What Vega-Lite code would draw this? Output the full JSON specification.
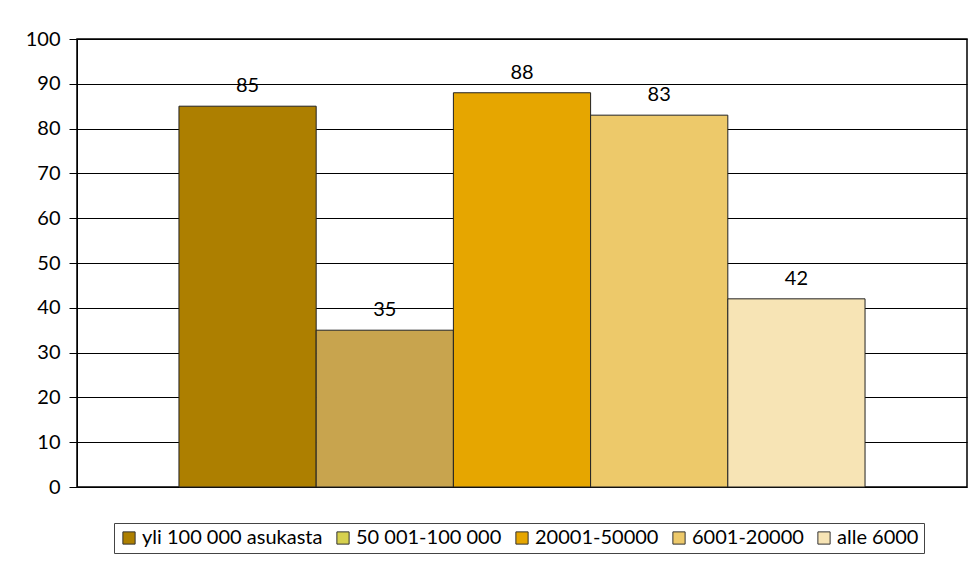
{
  "$schema": "https://vega.github.io/schema/vega-lite/v6.json",
  "width": 890,
  "height": 448,
  "autosize": {"type": "none"},
  "padding": {"left": 77, "top": 39, "right": 11, "bottom": 75},
  "background": "white",
  "config": {
    "view": {"stroke": "#000", "strokeWidth": 1.5},
    "font": "Lato"
  },
  "data": {
    "values": [
      {"group": "yli 100 000 asukasta", "value": 85},
      {"group": "50 001-100 000", "value": 35},
      {"group": "20001-50000", "value": 88},
      {"group": "6001-20000", "value": 83},
      {"group": "alle 6000", "value": 42}
    ]
  },
  "encoding": {
    "x": {
      "field": "group",
      "type": "nominal",
      "sort": null,
      "scale": {"paddingInner": 0, "paddingOuter": 0.743},
      "axis": null
    },
    "y": {
      "field": "value",
      "type": "quantitative",
      "scale": {"domain": [0, 100]},
      "axis": {
        "title": null,
        "values": [0, 10, 20, 30, 40, 50, 60, 70, 80, 90, 100],
        "domainColor": "#000",
        "gridColor": "#000",
        "gridOpacity": 1,
        "gridWidth": 1,
        "tickColor": "#000",
        "tickSize": 8,
        "labelFontSize": 20,
        "labelColor": "#000",
        "labelPadding": 9
      }
    }
  },
  "layer": [
    {
      "mark": {"type": "bar", "stroke": "#222", "strokeWidth": 1},
      "encoding": {
        "fill": {
          "condition": {"test": "datum.group === '50 001-100 000'", "value": "#C8A44E"},
          "field": "group",
          "type": "nominal",
          "sort": null,
          "scale": {
            "domain": ["yli 100 000 asukasta", "50 001-100 000", "20001-50000", "6001-20000", "alle 6000"],
            "range": ["#AD7F00", "#D6D04E", "#E6A600", "#EDC96A", "#F7E4B5"]
          },
          "legend": {
            "orient": "none",
            "legendX": 37,
            "legendY": 484,
            "direction": "horizontal",
            "title": null,
            "symbolType": "square",
            "symbolSize": 150,
            "symbolStrokeColor": "#333",
            "symbolStrokeWidth": 1,
            "labelFontSize": 20,
            "labelLimit": 0,
            "labelColor": "#000",
            "labelOffset": 3,
            "columnPadding": 10,
            "strokeColor": "#444",
            "padding": 5
          }
        }
      }
    },
    {
      "mark": {"type": "text", "dy": -14, "baseline": "alphabetic", "fontSize": 20, "color": "#000"},
      "encoding": {"text": {"field": "value", "type": "quantitative"}}
    }
  ]
}
